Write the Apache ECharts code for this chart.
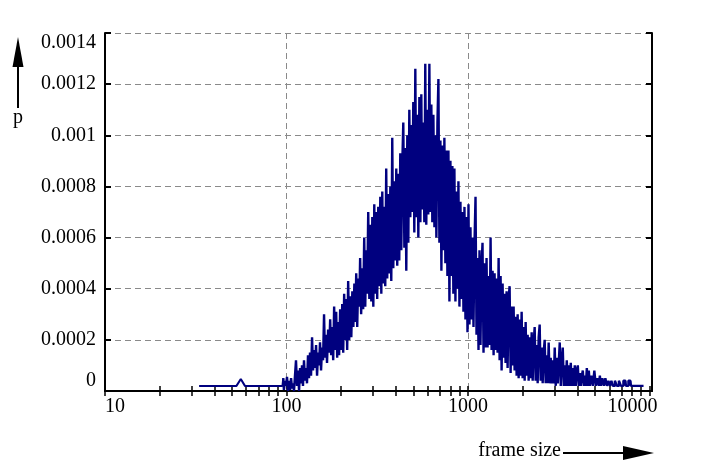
<!DOCTYPE html>
<html><head><meta charset="utf-8">
<script src="https://cdn.jsdelivr.net/npm/echarts@6/dist/echarts.min.js"></script>
<style>html,body{margin:0;padding:0;background:#fff}#c{width:703px;height:471px}</style>
</head><body><div id="c"></div>
<script>
// ---- data: [frame size, p] ----
const leftTail = [[33,2e-5],[53,2e-5],[56,4.7e-5],[59,2e-5],[95,2e-5],[96,5e-5]];
const rise = [[96,5e-5],[97.5,0.4e-5],[98.7,4e-5],[100,2e-5],[101.3,5.5e-5],[102.6,0],[104,4e-5],[105.3,0.4e-5],[106.6,5e-5],[108,1e-5],[109.3,3e-5],[110.7,0],[112,6e-5],[113.6,12e-5],[115,2e-5],[116.5,8e-5],[118,0],[119.5,9e-5],[121,3e-5],[122.5,10e-5],[124,2e-5],[125.7,12e-5],[127.3,4e-5],[128.9,9e-5],[130.5,3e-5],[132.2,14e-5],[133.9,5e-5],[135.6,15e-5],[137.4,6e-5],[139.2,21e-5],[140.9,8e-5],[142.7,16e-5],[144.6,9e-5],[146.4,18e-5],[148.3,6e-5],[150.2,15e-5],[152,10e-5],[154,19e-5],[156,8e-5],[158,17e-5],[160,12e-5],[162,30e-5],[164,13e-5],[166,22e-5],[168.4,11e-5],[170.6,24e-5],[173,15e-5],[175,28e-5],[177.4,14e-5],[179.6,25e-5],[182,12e-5],[184,33e-5],[186.6,16e-5],[189,31e-5],[191.4,13e-5],[193.8,27e-5],[196,14e-5],[199,32e-5],[201.5,16e-5],[204,34e-5],[206.6,15e-5],[209,38e-5],[212,20e-5],[214.5,36e-5],[217.3,16e-5],[220,43e-5],[223,20e-5],[226,37e-5],[229,21e-5],[232,39e-5],[235,25e-5],[238,42e-5],[240.6,27e-5],[243.7,46e-5],[246.8,25e-5],[250,44e-5],[253,33e-5],[256,52e-5],[259.5,30e-5],[263,48e-5],[266,32e-5],[270,60e-5],[273,33e-5],[276.6,55e-5],[280,38e-5],[284,70e-5],[288,36e-5],[291.5,65e-5],[295,35e-5],[299,68e-5]];
const peak = [[302.6,33e-5],[306.4,73e-5],[310,38e-5],[314,70e-5],[318,36e-5],[322.5,72e-5],[326.6,41e-5],[330.8,76e-5],[335,38e-5],[339,78e-5],[343.5,42e-5],[348,72e-5],[352,41e-5],[356.6,87e-5],[361,44e-5],[366,77e-5],[371,46e-5],[375.5,80e-5],[380,43e-5],[385,99e-5],[390,48e-5],[395,82e-5],[400,51e-5],[405,87e-5],[410,49e-5],[415,85e-5],[421,51e-5],[426,93e-5],[432,55e-5],[437,89e-5],[443,105e-5],[449,56e-5],[454,95e-5],[460,47e-5],[466,100e-5],[472,58e-5],[478,110e-5],[484,68e-5],[490,104e-5],[496,70e-5],[503,113e-5],[509,62e-5],[516,126e-5],[522,68e-5],[529,108e-5],[536,60e-5],[543,115e-5],[550,66e-5],[556,116e-5],[563,71e-5],[571,105e-5],[578,66e-5],[585,128e-5],[593,65e-5],[600,110e-5],[608,69e-5],[617,128e-5],[624,70e-5],[632,112e-5],[640,66e-5],[649,108e-5],[657,64e-5],[665,100e-5],[674,60e-5],[683,105e-5],[691,122e-5],[700,58e-5],[709,98e-5],[718,47e-5],[727,96e-5],[736,55e-5],[746,99e-5],[755,50e-5],[765,94e-5],[775,45e-5],[785,94e-5],[795,35e-5],[805,90e-5],[815,45e-5],[825,88e-5],[836,38e-5],[847,87e-5],[858,35e-5],[869,78e-5],[880,40e-5],[891,82e-5],[903,33e-5],[914,74e-5],[926,36e-5],[938,70e-5],[950,31e-5],[962,72e-5],[974,28e-5],[987,68e-5]];
const fall = [[1000,23e-5],[1012,73e-5],[1025,26e-5],[1038,64e-5],[1052,28e-5],[1065,60e-5],[1079,25e-5],[1093,58e-5],[1107,76e-5],[1121,22e-5],[1135,52e-5],[1150,16e-5],[1164,55e-5],[1179,18e-5],[1194,48e-5],[1210,58e-5],[1225,15e-5],[1241,50e-5],[1257,17e-5],[1273,52e-5],[1290,17e-5],[1306,45e-5],[1323,18e-5],[1340,60e-5],[1357,16e-5],[1375,47e-5],[1392,14e-5],[1410,46e-5],[1428,16e-5],[1446,44e-5],[1465,15e-5],[1484,52e-5],[1502,12e-5],[1522,45e-5],[1541,8e-5],[1561,42e-5],[1581,13e-5],[1600,38e-5],[1621,11e-5],[1642,39e-5],[1663,9e-5],[1684,36e-5],[1706,41e-5],[1728,7e-5],[1750,33e-5],[1772,10e-5],[1795,33e-5],[1818,8e-5],[1841,29e-5],[1865,6e-5],[1889,30e-5],[1913,5e-5],[1937,28e-5],[1962,6e-5],[1987,31e-5],[2013,5e-5],[2039,25e-5],[2064,4e-5],[2091,27e-5],[2118,6e-5],[2145,22e-5],[2172,4e-5],[2200,21e-5],[2228,5e-5],[2257,23e-5],[2286,4e-5],[2315,19e-5],[2344,25e-5],[2374,4e-5],[2405,18e-5],[2435,3e-5],[2466,21e-5],[2498,26e-5],[2530,4e-5],[2562,17e-5],[2595,3e-5],[2628,15e-5],[2662,20e-5],[2696,3e-5],[2730,14e-5],[2765,3e-5],[2800,19e-5],[2837,3e-5],[2873,13e-5],[2910,3e-5],[2947,12e-5],[2985,3e-5],[3024,17e-5],[3062,2e-5],[3102,13e-5],[3141,3e-5],[3182,11e-5]];
const rightTail = [[3222,19e-5],[3264,2e-5],[3306,12e-5],[3348,17e-5],[3391,2e-5],[3434,10e-5],[3478,2e-5],[3523,12e-5],[3568,2e-5],[3614,10e-5],[3660,2e-5],[3707,11e-5],[3755,2e-5],[3803,9e-5],[3851,2e-5],[3900,10e-5],[3950,2e-5],[4001,8e-5],[4052,10e-5],[4104,2e-5],[4156,7e-5],[4209,2e-5],[4263,6e-5],[4318,8e-5],[4373,2e-5],[4429,6e-5],[4486,2e-5],[4543,9e-5],[4601,2e-5],[4660,8e-5],[4720,2e-5],[4841,6e-5],[4903,2e-5],[5030,8e-5],[5094,2e-5],[5225,5e-5],[5292,2e-5],[5360,6e-5],[5428,2e-5],[5568,5e-5],[5640,2e-5],[5785,5e-5],[5860,2e-5],[6010,4e-5],[6087,2e-5],[6244,4e-5],[6324,2e-5],[6570,4e-5],[6655,2e-5],[6913,4e-5],[7000,2e-5],[7367,4e-5],[7460,2e-5],[7851,4e-5],[7950,2e-5],[8366,2e-5],[8916,2e-5],[9270,2e-5]];

const xTickLabels = [10, 100, 1000, 10000];
const xGridValues = [100, 1000];
const xMinorTicks = [20,30,40,50,60,70,80,90,200,300,400,500,600,700,800,900,2000,3000,4000,5000,6000,7000,8000,9000];
const yTicks = [0, 0.0002, 0.0004, 0.0006, 0.0008, 0.001, 0.0012, 0.0014];
const xTitle = 'frame size';
const yTitle = 'p';

const FONT = '"Liberation Serif", "DejaVu Serif", serif';
const allXTicks = xTickLabels.concat(xMinorTicks);
const xBase = {type: 'log', logBase: 10, min: 10, max: 10320, gridIndex: 0};
const blackLine = {show: true, lineStyle: {color: '#000', width: 2}};
const dash = {show: true, lineStyle: {color: '#8a8a8a', width: 1, type: [6, 4]}};
const NAVY = '#00007f';
const lastLabel = xTickLabels[xTickLabels.length - 1];

const chart = echarts.init(document.getElementById('c'), null, {renderer: 'canvas'});
chart.setOption({
  animation: false,
  backgroundColor: '#fff',
  grid: {left: 105, right: 51, top: 33, bottom: 80},
  xAxis: [
    Object.assign({}, xBase, {
      position: 'bottom',
      axisLine: blackLine,
      axisTick: {show: true, inside: true, length: 5, customValues: allXTicks, lineStyle: {color: '#000', width: 1.5}},
      axisLabel: {show: true, customValues: xTickLabels, color: '#000', fontFamily: FONT, fontSize: 20, margin: 6,
        alignMinLabel: 'left', alignMaxLabel: 'center',
        formatter: v => Math.round(v) === lastLabel ? '{m|' + Math.round(v) + '}' : String(Math.round(v)),
        rich: {m: {color: '#000', fontFamily: FONT, fontSize: 20, padding: [0, 34, 0, 0]}}},
      splitLine: {show: false}
    }),
    Object.assign({}, xBase, {
      position: 'top',
      axisLine: blackLine,
      axisTick: {show: true, inside: true, length: 5, customValues: allXTicks, lineStyle: {color: '#000', width: 1.5}},
      axisLabel: {show: false},
      splitLine: {show: false}
    }),
    Object.assign({}, xBase, {
      position: 'bottom',
      axisLine: {show: false},
      axisTick: {show: false, customValues: xGridValues},
      axisLabel: {show: false},
      splitLine: dash
    })
  ],
  yAxis: [
    {type: 'value', min: yTicks[0], max: yTicks[yTicks.length - 1], interval: yTicks[1], position: 'left',
      axisLine: blackLine,
      axisTick: {show: true, inside: true, length: 6, lineStyle: {color: '#000', width: 2}},
      axisLabel: {color: '#000', fontFamily: FONT, fontSize: 20, margin: 9,
        verticalAlignMinLabel: 'bottom', verticalAlignMaxLabel: 'top',
        formatter: v => v === 0 ? '0' : String(+v.toFixed(4))},
      splitLine: dash},
    {type: 'value', min: yTicks[0], max: yTicks[yTicks.length - 1], interval: yTicks[1], position: 'right',
      axisLine: blackLine,
      axisTick: {show: true, inside: true, length: 6, lineStyle: {color: '#000', width: 2}},
      axisLabel: {show: false},
      splitLine: {show: false}}
  ],
  series: [{
    type: 'line',
    xAxisIndex: 0, yAxisIndex: 0,
    data: leftTail,
    showSymbol: false,
    symbol: 'none',
    lineStyle: {color: NAVY, width: 2},
    z: 3
  }, {
    type: 'line',
    xAxisIndex: 0, yAxisIndex: 0,
    data: rise.concat(peak, fall, rightTail),
    step: 'middle',
    showSymbol: false,
    symbol: 'none',
    lineStyle: {color: NAVY, width: 2.4},
    z: 3
  }],
  graphic: [
    {type: 'line', shape: {x1: 18, y1: 62, x2: 18, y2: 108}, style: {stroke: '#000', lineWidth: 2}},
    {type: 'polygon', shape: {points: [[18, 37], [12.5, 67], [23.5, 67]]}, style: {fill: '#000'}},
    {type: 'text', x: 18, y: 118, style: {text: yTitle, font: '20px ' + FONT, fill: '#000', align: 'center', verticalAlign: 'middle'}},
    {type: 'text', x: 561, y: 451, style: {text: xTitle, font: '20px ' + FONT, fill: '#000', align: 'right', verticalAlign: 'middle'}},
    {type: 'line', shape: {x1: 563, y1: 453, x2: 626, y2: 453}, style: {stroke: '#000', lineWidth: 2}},
    {type: 'polygon', shape: {points: [[654, 453], [623, 446], [623, 460]]}, style: {fill: '#000'}}
  ]
});
</script>
</body></html>
